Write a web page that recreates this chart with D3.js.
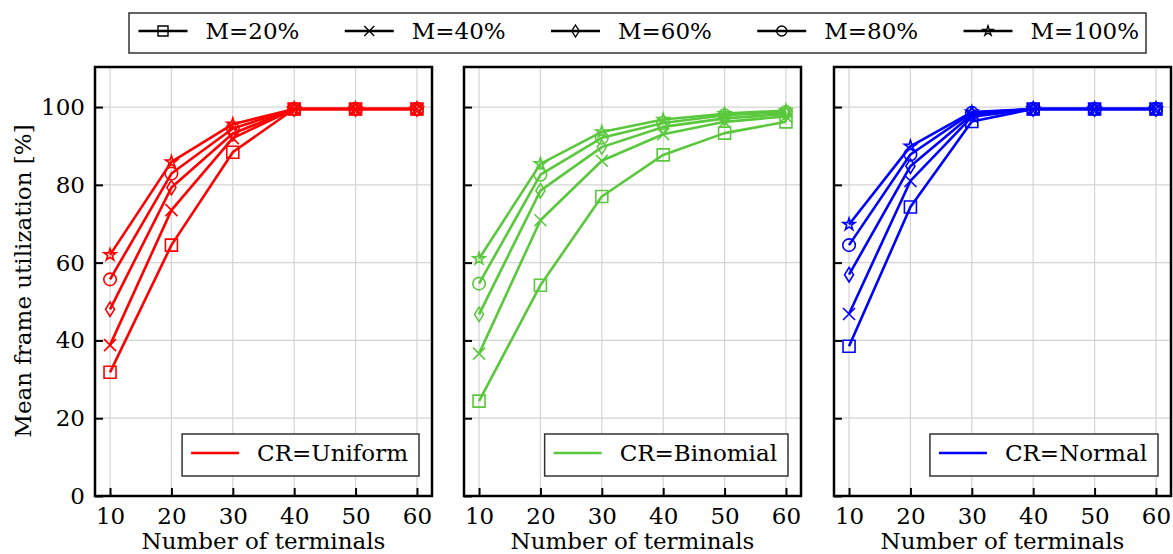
<!DOCTYPE html>
<html><head><meta charset="utf-8">
<script src="https://cdn.jsdelivr.net/npm/d3@7"></script>
<style>
html,body{margin:0;padding:0;background:#fff;}
svg{display:block;font-family:"DejaVu Serif",serif;}
</style></head>
<body><svg id="c" width="1173" height="554"></svg>
<script>
const terminals = [10, 20, 30, 40, 50, 60];
const seriesNames = ["M=20%", "M=40%", "M=60%", "M=80%", "M=100%"];
const markerTypes = ["square", "x", "thin_diamond", "circle", "star"];
const yTicks = [0, 20, 40, 60, 80, 100];
const xTicks = [10, 20, 30, 40, 50, 60];
const panelNames = ["CR=Uniform", "CR=Binomial", "CR=Normal"];
const panelColors = ["#ff0000", "#5ac83c", "#0000ff"];

// Uniform
const uniformM20  = [31.8, 64.5, 88.4, 99.5, 99.5, 99.5];
const uniformM40  = [38.8, 73.5, 92.0, 99.5, 99.5, 99.5];
const uniformM60  = [48.0, 79.3, 93.2, 99.5, 99.5, 99.5];
const uniformM80  = [55.7, 82.9, 94.5, 99.5, 99.5, 99.5];
const uniformM100 = [62.0, 85.9, 95.6, 99.5, 99.5, 99.5];
// Binomial
const binomialM20  = [24.4, 54.2, 77.0, 87.7, 93.3, 96.2];
const binomialM40  = [36.6, 70.9, 86.2, 93.0, 96.2, 97.6];
const binomialM60  = [46.7, 78.5, 89.7, 94.9, 97.1, 98.2];
const binomialM80  = [54.6, 82.6, 92.1, 95.9, 97.9, 98.7];
const binomialM100 = [61.0, 85.4, 93.6, 96.8, 98.3, 99.1];
// Normal
const normalM20  = [38.5, 74.3, 96.3, 99.5, 99.5, 99.5];
const normalM40  = [46.8, 81.0, 97.5, 99.5, 99.5, 99.5];
const normalM60  = [56.9, 84.8, 98.0, 99.5, 99.5, 99.5];
const normalM80  = [64.5, 87.8, 98.5, 99.5, 99.5, 99.5];
const normalM100 = [69.8, 89.9, 98.7, 99.5, 99.5, 99.5];

const panelData = [
  [uniformM20, uniformM40, uniformM60, uniformM80, uniformM100],
  [binomialM20, binomialM40, binomialM60, binomialM80, binomialM100],
  [normalM20, normalM40, normalM60, normalM80, normalM100]
];

const svg = d3.select("#c");
const FS = 23;
const panelLefts = [95, 464, 834];
const panelW = 337, plotTop = 67, plotBottom = 496;

function markerPath(type, s) {
  const h = s / 2;
  switch (type) {
    case "square": return `M${-h},${-h}H${h}V${h}H${-h}Z`;
    case "x": return `M${-h},${-h}L${h},${h}M${-h},${h}L${h},${-h}`;
    case "thin_diamond": { const w = h * 0.75, v = h * 1.2; return `M0,${-v}L${w},0L0,${v}L${-w},0Z`; }
    case "circle": return `M${h},0A${h},${h} 0 1,1 ${-h},0A${h},${h} 0 1,1 ${h},0Z`;
    case "star": {
      let p = "";
      const ro = h * 1.05, ri = ro * 0.38;
      for (let i = 0; i < 10; i++) {
        const r = i % 2 ? ri : ro;
        const a = -Math.PI / 2 + i * Math.PI / 5;
        p += (i ? "L" : "M") + (r * Math.cos(a)).toFixed(2) + "," + (r * Math.sin(a)).toFixed(2);
      }
      return p + "Z";
    }
  }
}

const y = d3.scaleLinear().domain([0, 110.3]).range([plotBottom, plotTop]);

panelData.forEach((series, pi) => {
  const x0 = panelLefts[pi];
  const x = d3.scaleLinear().domain([7.55, 62.45]).range([x0, x0 + panelW]);
  const color = panelColors[pi];
  const g = svg.append("g");
  // grid
  g.selectAll(".gx").data(xTicks).enter().append("line")
    .attr("x1", d => x(d)).attr("x2", d => x(d)).attr("y1", plotTop).attr("y2", plotBottom)
    .attr("stroke", "#d4d4d4").attr("stroke-width", 1.2);
  g.selectAll(".gy").data(yTicks).enter().append("line")
    .attr("y1", d => y(d)).attr("y2", d => y(d)).attr("x1", x0).attr("x2", x0 + panelW)
    .attr("stroke", "#d4d4d4").attr("stroke-width", 1.2);

  // axes with inward ticks
  const xAxis = d3.axisBottom(x).tickValues(xTicks).tickSize(-8).tickPadding(12).tickFormat(d3.format("d"));
  const gx = g.append("g").attr("transform", `translate(0,${plotBottom})`).call(xAxis);
  gx.select(".domain").remove();
  gx.selectAll("line").attr("stroke", "#000").attr("stroke-width", 2);
  gx.selectAll("text").attr("font-size", FS).attr("font-family", "DejaVu Serif").attr("fill", "#000");

  const yAxis = d3.axisLeft(y).tickValues(yTicks).tickSize(-8).tickPadding(10).tickFormat(pi === 0 ? d3.format("d") : () => "");
  const gy = g.append("g").attr("transform", `translate(${x0},0)`).call(yAxis);
  gy.select(".domain").remove();
  gy.selectAll("line").attr("stroke", "#000").attr("stroke-width", 2);
  gy.selectAll("text").attr("font-size", FS).attr("font-family", "DejaVu Serif").attr("fill", "#000");

  // lines and markers
  const line = d3.line().x((d, i) => x(terminals[i])).y(d => y(d));
  series.forEach((vals, si) => {
    g.append("path").attr("d", line(vals)).attr("fill", "none")
      .attr("stroke", color).attr("stroke-width", 2.6).attr("stroke-linejoin", "round");
    const mt = markerTypes[si];
    const sz = mt === "star" ? 12 : (mt === "circle" ? 12.5 : 12);
    g.selectAll(null).data(vals).enter().append("path")
      .attr("transform", (d, i) => `translate(${x(terminals[i])},${y(d)})`)
      .attr("d", markerPath(mt, sz))
      .attr("fill", "none").attr("stroke", color).attr("stroke-width", 1.6);
  });

  // frame
  g.append("rect").attr("x", x0).attr("y", plotTop).attr("width", panelW).attr("height", plotBottom - plotTop)
    .attr("fill", "none").attr("stroke", "#000").attr("stroke-width", 2.5);

  // x label
  g.append("text").attr("x", x0 + panelW / 2).attr("y", 549).attr("text-anchor", "middle")
    .attr("font-size", FS).text("Number of terminals");

  // inner legend
  const lgRight = x0 + panelW - 13, lgTop = 434, lgBot = 476;
  const lgBox = g.append("rect");
  const txt = g.append("text").attr("font-size", FS).attr("text-anchor", "end")
    .attr("x", lgRight - 11).attr("y", 461).text(panelNames[pi]);
  const tw = txt.node().getComputedTextLength();
  const lineEnd = lgRight - 11 - tw - 18;
  const lineStart = lineEnd - 48;
  const lgLeft = lineStart - 9;
  lgBox.attr("x", lgLeft).attr("y", lgTop).attr("width", lgRight - lgLeft).attr("height", lgBot - lgTop)
    .attr("fill", "#fff").attr("stroke", "#333").attr("stroke-width", 1.5);
  g.append("line").attr("x1", lineStart).attr("x2", lineEnd).attr("y1", 453).attr("y2", 453)
    .attr("stroke", color).attr("stroke-width", 2.6);
});

// y label
svg.append("text").attr("transform", "translate(31,281) rotate(-90)").attr("text-anchor", "middle")
  .attr("font-size", FS).text("Mean frame utilization [%]");

// top legend
const lg = svg.append("g");
lg.append("rect").attr("x", 129).attr("y", 13).attr("width", 1017).attr("height", 40)
  .attr("fill", "#fff").attr("stroke", "#333").attr("stroke-width", 1.5);
const entryX = d3.scaleLinear().domain([0, 4]).range([138.5, 963.5]);
seriesNames.forEach((name, i) => {
  const lx = entryX(i);
  lg.append("line").attr("x1", lx).attr("x2", lx + 49).attr("y1", 31).attr("y2", 31)
    .attr("stroke", "#000").attr("stroke-width", 2.6);
  lg.append("path").attr("transform", `translate(${lx + 24.5},31)`)
    .attr("d", markerPath(markerTypes[i], 10)).attr("fill", "none").attr("stroke", "#000").attr("stroke-width", 1.4);
  lg.append("text").attr("x", lx + 67).attr("y", 39).attr("font-size", FS).text(name);
});
</script></body></html>
